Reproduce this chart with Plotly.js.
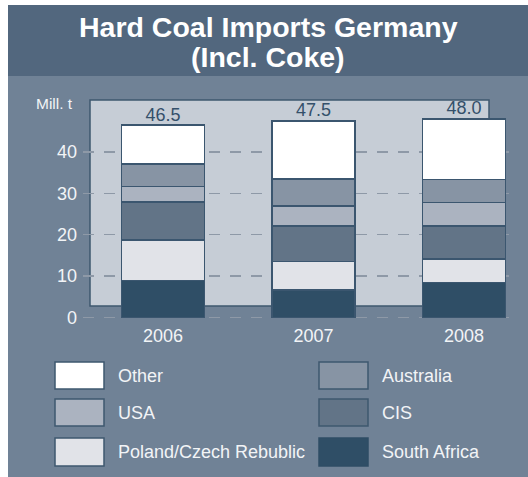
<!DOCTYPE html>
<html>
<head>
<meta charset="utf-8">
<script src="https://cdn.plot.ly/plotly-3.0.1.min.js"></script>
<style>html,body{margin:0;padding:0;background:#fff;}#chart{width:528px;height:477px;}</style>
</head>
<body>
<div id="chart"></div>
<script>
// ---- data ----
const years = ['2006', '2007', '2008'];
const southAfrica = [8.9, 6.7, 8.4];
const poland = [9.8, 6.8, 5.7];
const cis = [9.2, 8.6, 8.0];
const usa = [3.8, 4.8, 5.7];
const australia = [5.4, 6.6, 5.5];
const other = [9.4, 14.0, 14.7];
const totals = [46.5, 47.5, 48.0];
const seriesNames = ['South Africa', 'Poland/Czech Rebublic', 'CIS', 'USA', 'Australia', 'Other'];
const yTicks = [0, 10, 20, 30, 40];
const titleLines = ['Hard Coal Imports Germany', '(Incl. Coke)'];
const unitLabel = 'Mill. t';

// ---- styles ----
const colors = {
  'South Africa': '#2f4e66',
  'Poland/Czech Rebublic': '#e1e3e8',
  'CIS': '#627487',
  'USA': '#abb3c0',
  'Australia': '#8794a4',
  'Other': '#ffffff'
};
const seriesValues = [southAfrica, poland, cis, usa, australia, other];
const outline = '#3b566f';
const W = 528, H = 477;
const M = {l: 83, r: 19, t: 100, b: 155};
const PW = W - M.l - M.r, PH = H - M.t - M.b;
const px = x => (x - M.l) / PW;
const py = y => (H - M.b - y) / PH;
const FONT = 'Liberation Sans, Arial, sans-serif';

const traces = seriesNames.map((name, i) => ({
  type: 'bar',
  name: name,
  x: years,
  y: seriesValues[i],
  width: 0.55,
  marker: {color: colors[name], line: {color: outline, width: 1.5}},
  showlegend: false,
  hoverinfo: 'skip'
}));
traces.push({
  type: 'scatter',
  mode: 'text',
  x: years,
  y: totals,
  text: totals.map(v => v.toFixed(1)),
  textposition: 'top center',
  textfont: {family: FONT, size: 18, color: '#34506a'},
  cliponaxis: false,
  showlegend: false,
  hoverinfo: 'skip'
});

const shapes = [
  // body
  {type: 'rect', xref: 'paper', yref: 'paper', x0: px(8), x1: px(528), y0: py(477), y1: py(76),
   fillcolor: '#708296', line: {width: 0}, layer: 'below'},
  // title band
  {type: 'rect', xref: 'paper', yref: 'paper', x0: px(8), x1: px(528), y0: py(76), y1: py(5),
   fillcolor: '#52677e', line: {width: 0}, layer: 'below'},
  // inner box
  {type: 'rect', xref: 'paper', yref: 'paper', x0: px(90), x1: px(489), y0: py(306), y1: py(100),
   fillcolor: '#c6cdd6', line: {color: '#3e586f', width: 1.5}, layer: 'below'}
];
const annotations = [
  {xref: 'paper', yref: 'paper', x: px(34), y: py(103), xanchor: 'left', yanchor: 'middle',
   text: unitLabel, showarrow: false, font: {family: FONT, size: 15.5, color: '#f2f4f6'}},
  {xref: 'paper', yref: 'paper', x: px(268), y: py(9), xanchor: 'center', yanchor: 'top',
   text: '<b>' + titleLines[0] + '</b>', showarrow: false, font: {family: FONT, size: 28.5, color: '#ffffff'}},
  {xref: 'paper', yref: 'paper', x: px(268), y: py(39), xanchor: 'center', yanchor: 'top',
   text: '<b>' + titleLines[1] + '</b>', showarrow: false, font: {family: FONT, size: 28.5, color: '#ffffff'}}
];

// legend (2 columns, row-major)
const legendOrder = ['Other', 'Australia', 'USA', 'CIS', 'Poland/Czech Rebublic', 'South Africa'];
const colX = [55, 319];
const rowY = [[362, 389], [399, 426], [438, 466]];
legendOrder.forEach((name, i) => {
  const c = i % 2, r = Math.floor(i / 2);
  shapes.push({type: 'rect', xref: 'paper', yref: 'paper',
    x0: px(colX[c]), x1: px(colX[c] + 49), y0: py(rowY[r][1]), y1: py(rowY[r][0]),
    fillcolor: colors[name], line: {color: name === 'South Africa' ? colors[name] : '#3e586f', width: 1.5}, layer: 'above'});
  annotations.push({xref: 'paper', yref: 'paper', x: px(colX[c] + 61), y: py((rowY[r][0] + rowY[r][1]) / 2),
    xanchor: 'left', yanchor: 'middle', text: name, showarrow: false,
    font: {family: FONT, size: 18, color: '#f2f4f6'}});
});

const layout = {
  width: W, height: H,
  margin: M,
  paper_bgcolor: '#ffffff',
  plot_bgcolor: 'rgba(0,0,0,0)',
  barmode: 'stack',
  showlegend: false,
  xaxis: {
    type: 'category',
    range: [-0.532, 2.299],
    showgrid: false, zeroline: false, showline: false, ticks: '',
    tickfont: {family: FONT, size: 18, color: '#f2f4f6'},
    ticklabelstandoff: 1
  },
  yaxis: {
    range: [-1.087, 52.54],
    tickvals: yTicks,
    ticktext: yTicks.map(String),
    showgrid: true, gridcolor: '#8e99a7', gridwidth: 1.5, griddash: '11px,10px',
    zeroline: false, showline: false, ticks: '',
    tickfont: {family: FONT, size: 18, color: '#f2f4f6'},
    ticklabelstandoff: 5
  },
  shapes: shapes,
  annotations: annotations
};

Plotly.newPlot('chart', traces, layout, {displayModeBar: false, staticPlot: true});
</script>
</body>
</html>
